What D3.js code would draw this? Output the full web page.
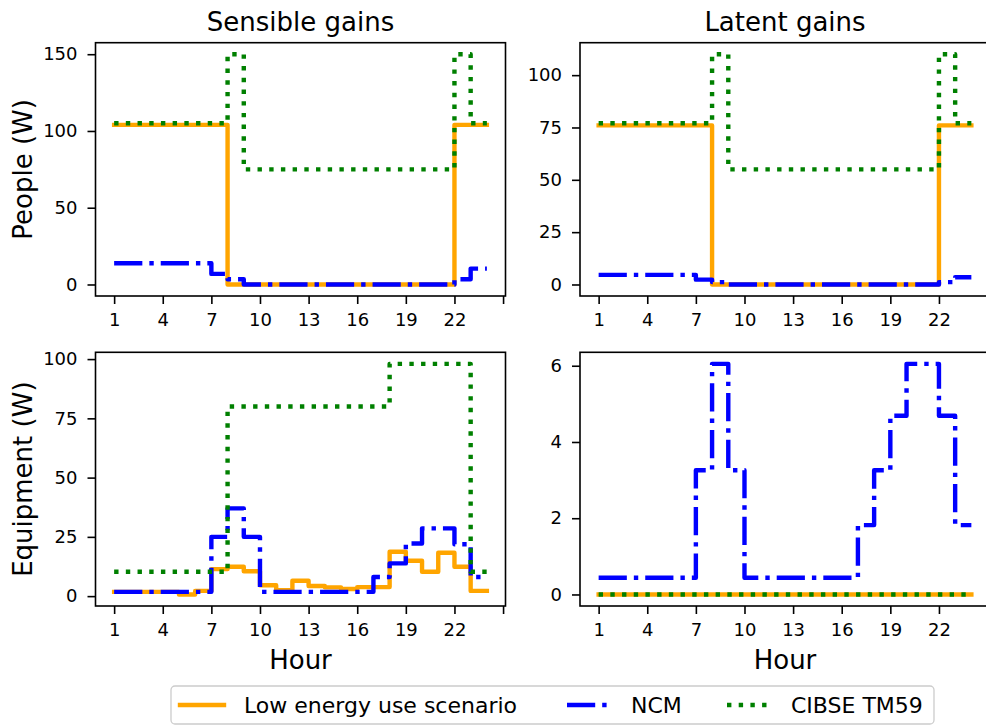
<!DOCTYPE html>
<html>
<head>
<meta charset="utf-8">
<script src="https://cdn.jsdelivr.net/npm/d3@7"></script>
<style>
  body { margin: 0; background: #fff; }
  svg { display: block; }
  text { font-family: "DejaVu Sans", sans-serif; fill: #000; }
</style>
</head>
<body>
<svg id="chart" width="986" height="727"></svg>
<script>
// Hour of day (values hold from each hour to the next)
const hours = [1, 2, 3, 4, 5, 6, 7, 8, 9, 10, 11, 12, 13, 14, 15, 16, 17, 18, 19, 20, 21, 22, 23, 24];

const xTicks = [1, 4, 7, 10, 13, 16, 19, 22, 25];
const xTickLabels = ["1", "4", "7", "10", "13", "16", "19", "22", ""];

const seriesNames = ["Low energy use scenario", "NCM", "CIBSE TM59"];

// People – sensible gains (W)
const peopleSensibleLow  = [104, 104, 104, 104, 104, 104, 104, 0, 0, 0, 0, 0, 0, 0, 0, 0, 0, 0, 0, 0, 0, 104, 104, 104];
const peopleSensibleNCM  = [13.8, 13.8, 13.8, 13.8, 13.8, 13.8, 6.9, 3.45, 0, 0, 0, 0, 0, 0, 0, 0, 0, 0, 0, 0, 0, 3.45, 10.35, 10.35];
const peopleSensibleTM59 = [105, 105, 105, 105, 105, 105, 105, 150, 75, 75, 75, 75, 75, 75, 75, 75, 75, 75, 75, 75, 75, 150, 105, 105];

// People – latent gains (W)
const peopleLatentLow  = [76, 76, 76, 76, 76, 76, 76, 0, 0, 0, 0, 0, 0, 0, 0, 0, 0, 0, 0, 0, 0, 76, 76, 76];
const peopleLatentNCM  = [4.6, 4.6, 4.6, 4.6, 4.6, 4.6, 2.3, 1.15, 0, 0, 0, 0, 0, 0, 0, 0, 0, 0, 0, 0, 0, 1.15, 3.45, 3.45];
const peopleLatentTM59 = [77, 77, 77, 77, 77, 77, 77, 110, 55, 55, 55, 55, 55, 55, 55, 55, 55, 55, 55, 55, 55, 110, 77, 77];

// Equipment – sensible gains (W)
const equipSensibleLow  = [1.8, 1.8, 1.8, 1.8, 0.7, 2.2, 11.4, 12.4, 10.5, 4.6, 2.5, 6.5, 4.3, 3.7, 3.0, 3.8, 3.8, 18.7, 14.9, 10.3, 18.3, 12.4, 2.2, 2.2];
const equipSensibleNCM  = [1.8, 1.8, 1.8, 1.8, 1.8, 1.8, 25, 37, 25, 1.8, 1.8, 1.8, 1.8, 1.8, 1.8, 1.8, 8.1, 13.8, 22.2, 28.6, 28.6, 21.9, 8.1, 8.1];
const equipSensibleTM59 = [10.3, 10.3, 10.3, 10.3, 10.3, 10.3, 10.3, 80, 80, 80, 80, 80, 80, 80, 80, 80, 80, 98, 98, 98, 98, 98, 10.3, 10.3];

// Equipment – latent gains (W)
const equipLatentLow  = [0, 0, 0, 0, 0, 0, 0, 0, 0, 0, 0, 0, 0, 0, 0, 0, 0, 0, 0, 0, 0, 0, 0, 0];
const equipLatentNCM  = [0.44, 0.44, 0.44, 0.44, 0.44, 0.44, 3.26, 6.05, 3.26, 0.44, 0.44, 0.44, 0.44, 0.44, 0.44, 0.44, 1.82, 3.26, 4.69, 6.05, 6.05, 4.69, 1.82, 1.82];
const equipLatentTM59 = [0, 0, 0, 0, 0, 0, 0, 0, 0, 0, 0, 0, 0, 0, 0, 0, 0, 0, 0, 0, 0, 0, 0, 0];

const yTicksPeopleSensible = [0, 50, 100, 150];
const yTicksPeopleLatent   = [0, 25, 50, 75, 100];
const yTicksEquipSensible  = [0, 25, 50, 75, 100];
const yTicksEquipLatent    = [0, 2, 4, 6];

// ---- styling ----
const LW = 4.4;
const seriesStyle = [
  { color: "orange", dash: null,              cap: "square" },
  { color: "blue",   dash: "28.2 7 4.4 7",    cap: "butt" },
  { color: "green",  dash: "4.4 7.3",         cap: "butt" }
];

const cols = [{ x0: 95.5, x1: 505.5 }, { x0: 580, x1: 990 }];
const rows = [{ y0: 42.7, y1: 296 }, { y0: 352.3, y1: 606 }];

const panels = [
  { c: 0, r: 0, data: [peopleSensibleLow, peopleSensibleNCM, peopleSensibleTM59], yTicks: yTicksPeopleSensible, title: "Sensible gains", ylabel: "People (W)" },
  { c: 1, r: 0, data: [peopleLatentLow, peopleLatentNCM, peopleLatentTM59],       yTicks: yTicksPeopleLatent,   title: "Latent gains" },
  { c: 0, r: 1, data: [equipSensibleLow, equipSensibleNCM, equipSensibleTM59],    yTicks: yTicksEquipSensible,  ylabel: "Equipment (W)", xlabel: "Hour" },
  { c: 1, r: 1, data: [equipLatentLow, equipLatentNCM, equipLatentTM59],          yTicks: yTicksEquipLatent,    xlabel: "Hour" }
];

const svg = d3.select("#chart");

// Padded extent, 5% each side
function padded(lo, hi) {
  const m = (hi - lo) * 0.05;
  return [lo - m, hi + m];
}

const xExt = d3.extent(hours);

panels.forEach(p => {
  const { x0, x1 } = cols[p.c];
  const { y0, y1 } = rows[p.r];

  const x = d3.scaleLinear().domain(padded(xExt[0], xExt[1])).range([x0, x1]);
  const allVals = p.data.flat();
  const y = d3.scaleLinear().domain(padded(d3.min(allVals), d3.max(allVals))).range([y1, y0]);

  const g = svg.append("g");

  // series
  const line = d3.line()
    .x((d, i) => x(hours[i]))
    .y(d => y(d))
    .curve(d3.curveStepAfter);

  p.data.forEach((vals, si) => {
    const st = seriesStyle[si];
    g.append("path")
      .datum(vals)
      .attr("d", line)
      .attr("fill", "none")
      .attr("stroke", st.color)
      .attr("stroke-width", LW)
      .attr("stroke-linejoin", "round")
      .attr("stroke-linecap", st.cap)
      .attr("stroke-dasharray", st.dash);
  });

  // axes
  const xAxis = d3.axisBottom(x)
    .tickValues(xTicks)
    .tickFormat((d, i) => xTickLabels[i])
    .tickSize(8)
    .tickPadding(9);
  const yAxis = d3.axisLeft(y)
    .tickValues(p.yTicks)
    .tickFormat(d3.format("d"))
    .tickSize(8)
    .tickPadding(10);

  const gx = g.append("g").attr("transform", `translate(0,${y1})`).call(xAxis);
  const gy = g.append("g").attr("transform", `translate(${x0},0)`).call(yAxis);
  [gx, gy].forEach(a => {
    a.select(".domain").remove();
    a.selectAll(".tick line").attr("stroke", "#000").attr("stroke-width", 1.6);
    a.selectAll(".tick text")
      .attr("fill", "#000")
      .style("font-size", "18px")
      .style("font-family", "'DejaVu Sans', sans-serif");
  });

  // frame
  g.append("rect")
    .attr("x", x0).attr("y", y0)
    .attr("width", x1 - x0).attr("height", y1 - y0)
    .attr("fill", "none")
    .attr("stroke", "#000")
    .attr("stroke-width", 1.6);

  const cx = (x0 + x1) / 2;
  if (p.title) {
    g.append("text")
      .attr("x", cx).attr("y", 31)
      .attr("text-anchor", "middle")
      .style("font-size", "26px")
      .text(p.title);
  }
  if (p.ylabel) {
    g.append("text")
      .attr("transform", `translate(32,${(y0 + y1) / 2}) rotate(-90)`)
      .attr("text-anchor", "middle")
      .style("font-size", "26px")
      .text(p.ylabel);
  }
  if (p.xlabel) {
    g.append("text")
      .attr("x", cx).attr("y", 669)
      .attr("text-anchor", "middle")
      .style("font-size", "26px")
      .text(p.xlabel);
  }
});

// legend
const legend = svg.append("g");
legend.append("rect")
  .attr("x", 171).attr("y", 686)
  .attr("width", 763).attr("height", 38)
  .attr("rx", 4)
  .attr("fill", "#fff")
  .attr("fill-opacity", 0.8)
  .attr("stroke", "#cccccc")
  .attr("stroke-width", 1.3);

const legendHandleX = [180, 567, 727];
const legendY = 705;
seriesNames.forEach((name, i) => {
  const st = seriesStyle[i];
  legend.append("line")
    .attr("x1", legendHandleX[i]).attr("x2", legendHandleX[i] + 44)
    .attr("y1", legendY).attr("y2", legendY)
    .attr("stroke", st.color)
    .attr("stroke-width", LW)
    .attr("stroke-linecap", st.cap)
    .attr("stroke-dasharray", st.dash);
  legend.append("text")
    .attr("x", legendHandleX[i] + 64)
    .attr("y", legendY + 8)
    .style("font-size", "22px")
    .text(name);
});
</script>
</body>
</html>
